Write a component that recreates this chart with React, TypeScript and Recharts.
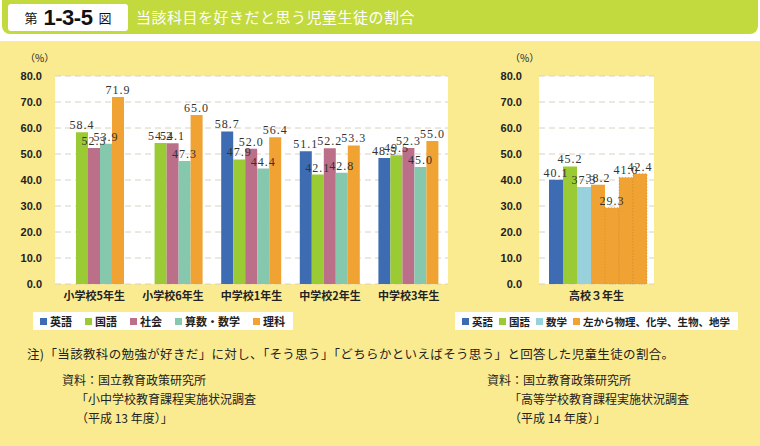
import { BarChart, Bar, XAxis, YAxis, CartesianGrid, LabelList } from 'recharts'

const categories = ['小学校5年生', '小学校6年生', '中学校1年生', '中学校2年生', '中学校3年生']
const english = [null, null, 58.7, 51.1, 48.5]
const japanese = [58.4, 54.2, 47.9, 42.1, 49.5]
const social = [52.3, 54.1, 52.0, 52.2, 52.3]
const math = [53.9, 47.3, 44.4, 42.8, 45.0]
const science = [71.9, 65.0, 56.4, 53.3, 55.0]

const hsCategories = ['高校３年生']
const hsEnglish = [40.1]
const hsJapanese = [45.2]
const hsMath = [37.3]
const hsPhysics = [38.2]
const hsChemistry = [29.3]
const hsBiology = [41.0]
const hsEarth = [42.4]

const yTicks = [0, 10, 20, 30, 40, 50, 60, 70, 80]

const BLUE = '#3d6cb3'
const GREEN = '#9acb34'
const PINK = '#bb6f88'
const TEAL = '#86c8ae'
const ORANGE = '#f0a232'
const LIGHTBLUE = '#98d0dc'

const SANS = '"Noto Sans CJK JP", "Liberation Sans", sans-serif'
const SERIF = '"Liberation Serif", "Noto Sans CJK JP", serif'

const leftData = categories.map((c, i) => ({
  name: c, english: english[i], japanese: japanese[i], social: social[i], math: math[i], science: science[i],
}))
const rightData = hsCategories.map((c, i) => ({
  name: c, english: hsEnglish[i], japanese: hsJapanese[i], math: hsMath[i],
  physics: hsPhysics[i], chemistry: hsChemistry[i], biology: hsBiology[i], earth: hsEarth[i],
}))

const leftSeries = [
  { key: 'english', label: '英語', color: BLUE },
  { key: 'japanese', label: '国語', color: GREEN },
  { key: 'social', label: '社会', color: PINK },
  { key: 'math', label: '算数・数学', color: TEAL },
  { key: 'science', label: '理科', color: ORANGE },
]
const rightSeries = [
  { key: 'english', label: '英語', color: BLUE },
  { key: 'japanese', label: '国語', color: GREEN },
  { key: 'math', label: '数学', color: LIGHTBLUE },
  { key: 'physics', label: '左から物理、化学、生物、地学', color: ORANGE },
  { key: 'chemistry', label: null, color: ORANGE },
  { key: 'biology', label: null, color: ORANGE },
  { key: 'earth', label: null, color: ORANGE },
]

const fmt = (v: any) => (v == null ? '' : Number(v).toFixed(1))
const yTick = { fontSize: 11, fontWeight: 700, fill: '#222', fontFamily: '"Liberation Sans", sans-serif' }
const xTick = { fontSize: 11, fontWeight: 700, fill: '#222', fontFamily: SANS }
const labelStyle = { fontSize: 12, fontFamily: SERIF, fill: '#333', letterSpacing: 1 }

function Legend({ items, left, gap, fontSize }: { items: { label: string | null; color: string }[]; left: number; gap: number; fontSize: number }) {
  return (
    <div style={{
      position: 'absolute', left, top: 312, height: 18, background: '#fff', display: 'flex',
      alignItems: 'center', padding: '0 8px 0 7px', gap, fontFamily: SANS, fontSize, fontWeight: 700, color: '#222',
    }}>
      {items.filter(s => s.label).map(s => (
        <span key={s.label!} style={{ display: 'flex', alignItems: 'center' }}>
          <span style={{ width: 7, height: 7, background: s.color, marginRight: 3, display: 'inline-block' }} />
          {s.label}
        </span>
      ))}
    </div>
  )
}

export default function App() {
  return (
    <div style={{ position: 'absolute', left: 0, top: 0, width: 760, height: 446, background: '#fff', overflow: 'hidden' }}>
      {/* title bar */}
      <div style={{ position: 'absolute', left: 2, top: 0, width: 756, height: 34, background: '#c2da3e', borderRadius: '0 0 8px 8px' }} />
      <div style={{
        position: 'absolute', left: 8, top: 4, width: 120, height: 27, background: '#fff', borderRadius: 3,
        display: 'flex', alignItems: 'center', justifyContent: 'center', fontFamily: SANS, color: '#111',
      }}>
        <span style={{ fontSize: 13 }}>第</span>
        <span style={{ fontSize: 22, fontWeight: 700, margin: '0 6px', fontFamily: '"Liberation Sans", sans-serif', letterSpacing: -0.5 }}>1-3-5</span>
        <span style={{ fontSize: 13 }}>図</span>
      </div>
      <div style={{ position: 'absolute', left: 136, top: 6, fontFamily: SANS, fontSize: 15, color: '#fff', letterSpacing: 0.5 }}>
        当該科目を好きだと思う児童生徒の割合
      </div>

      {/* yellow panel */}
      <div style={{ position: 'absolute', left: 0, top: 41, width: 760, height: 405, background: '#faeb91' }} />

      <div style={{ position: 'absolute', left: 25, top: 50, fontFamily: SANS, fontSize: 10, color: '#222' }}>（%）</div>
      <div style={{ position: 'absolute', left: 510, top: 50, fontFamily: SANS, fontSize: 10, color: '#222' }}>（%）</div>

      <div style={{ position: 'absolute', left: 0, top: 41 }}>
        <BarChart width={470} height={300} data={leftData} margin={{ top: 35, right: 22, bottom: 27, left: 0 }}
          barCategoryGap={9} barGap={0}>
          <CartesianGrid vertical={false} stroke="#d8d2c0" strokeDasharray="6 4" fill="#fff" />
          <XAxis dataKey="name" tick={xTick} tickLine={false} axisLine={false} interval={0} />
          <YAxis width={55} domain={[0, 80]} ticks={yTicks} tickFormatter={fmt} tick={yTick}
            tickLine={false} axisLine={false} tickMargin={7} />
          {leftSeries.map(s => (
            <Bar key={s.key} dataKey={s.key} fill={s.color} isAnimationActive={false}>
              <LabelList dataKey={s.key} position="top" offset={3} formatter={fmt} style={labelStyle} />
            </Bar>
          ))}
        </BarChart>
      </div>

      <div style={{ position: 'absolute', left: 470, top: 41 }}>
        <BarChart width={290} height={300} data={rightData} margin={{ top: 35, right: 106, bottom: 27, left: 0 }}
          barCategoryGap={10} barGap={0}>
          <CartesianGrid vertical={false} stroke="#d8d2c0" strokeDasharray="6 4" fill="#fff" />
          <XAxis dataKey="name" tick={xTick} tickLine={false} axisLine={false} interval={0} />
          <YAxis width={69} domain={[0, 80]} ticks={yTicks} tickFormatter={fmt} tick={yTick}
            tickLine={false} axisLine={false} tickMargin={11} />
          {rightSeries.map((s, i) => (
            <Bar key={s.key} dataKey={s.key} fill={s.color} isAnimationActive={false}
              stroke={i > 3 ? '#c98a30' : undefined} strokeWidth={i > 3 ? 0.6 : 0} strokeDasharray="1 2">
              <LabelList dataKey={s.key} position="top" offset={3} formatter={fmt} style={labelStyle} />
            </Bar>
          ))}
        </BarChart>
      </div>

      <Legend items={leftSeries} left={33} gap={13} fontSize={11} />
      <Legend items={rightSeries} left={455} gap={6} fontSize={10.5} />

      <div style={{ position: 'absolute', left: 27, top: 344, fontFamily: SANS, fontSize: 12.5, color: '#222', whiteSpace: 'nowrap', letterSpacing: 0.35 }}>
        注)「当該教科の勉強が好きだ」に対し、「そう思う」「どちらかといえばそう思う」と回答した児童生徒の割合。
      </div>
      <div style={{ position: 'absolute', left: 62, top: 370, fontFamily: SANS, fontSize: 12, color: '#222', lineHeight: '19px' }}>
        <div>資料：国立教育政策研究所</div>
        <div style={{ marginLeft: 14 }}>「小中学校教育課程実施状況調査</div>
        <div style={{ marginLeft: 14 }}>（平成 13 年度）」</div>
      </div>
      <div style={{ position: 'absolute', left: 487, top: 370, fontFamily: SANS, fontSize: 12, color: '#222', lineHeight: '19px' }}>
        <div>資料：国立教育政策研究所</div>
        <div style={{ marginLeft: 22 }}>「高等学校教育課程実施状況調査</div>
        <div style={{ marginLeft: 22 }}>（平成 14 年度）」</div>
      </div>
    </div>
  )
}
